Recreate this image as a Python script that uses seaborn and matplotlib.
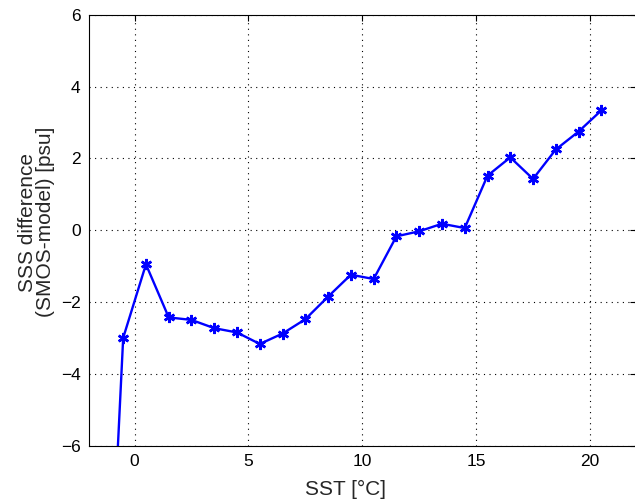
import matplotlib
matplotlib.use("Agg")
import matplotlib.pyplot as plt
import seaborn as sns
import pandas as pd

# SST bin centres and SSS difference (SMOS - model)
sst = [-1.5, -0.5, 0.5, 1.5, 2.5, 3.5, 4.5, 5.5, 6.5, 7.5, 8.5, 9.5, 10.5,
       11.5, 12.5, 13.5, 14.5, 15.5, 16.5, 17.5, 18.5, 19.5, 20.5]
sss_diff = [-16.0, -3.0, -0.95, -2.43, -2.50, -2.73, -2.85, -3.17, -2.88, -2.48,
            -1.85, -1.24, -1.36, -0.17, -0.03, 0.18, 0.06, 1.52, 2.03, 1.43,
            2.25, 2.75, 3.34]

df = pd.DataFrame({"sst": sst, "diff": sss_diff})

sns.set_style("white")
plt.rcParams["font.family"] = ["Liberation Sans", "DejaVu Sans"]

fig = plt.figure(figsize=(6.35, 5.03), dpi=100)
ax = fig.add_axes([0.1402, 0.1143, 0.8606, 0.856])

sns.lineplot(data=df, x="sst", y="diff", ax=ax, color="#0000ff",
             linewidth=1.7, marker=(6, 2, 0), markersize=8,
             markeredgewidth=1.8, markeredgecolor="#0000ff", sort=False)

ax.set_xlim(-2, 22)
ax.set_ylim(-6, 6)
ax.set_xticks([0, 5, 10, 15, 20])
ax.set_yticks([-6, -4, -2, 0, 2, 4, 6])
ax.grid(True, linestyle=(0, (1, 4)), color="black", linewidth=0.8)
ax.tick_params(direction="in", length=4, width=0.8, labelsize=12.5, pad=6,
               top=True, right=True, colors="black")
for s in ax.spines.values():
    s.set_color("black")
    s.set_linewidth(0.8)

ax.set_xlabel("SST [°C]", fontsize=15, va="center")
ax.xaxis.set_label_coords(0.470, -0.101)
ax.set_ylabel("SSS difference\n(SMOS-model) [psu]", fontsize=15,
              va="center", linespacing=0.95)
ax.yaxis.set_label_coords(-0.096, 0.519)

fig.savefig("out.png", dpi=100)
